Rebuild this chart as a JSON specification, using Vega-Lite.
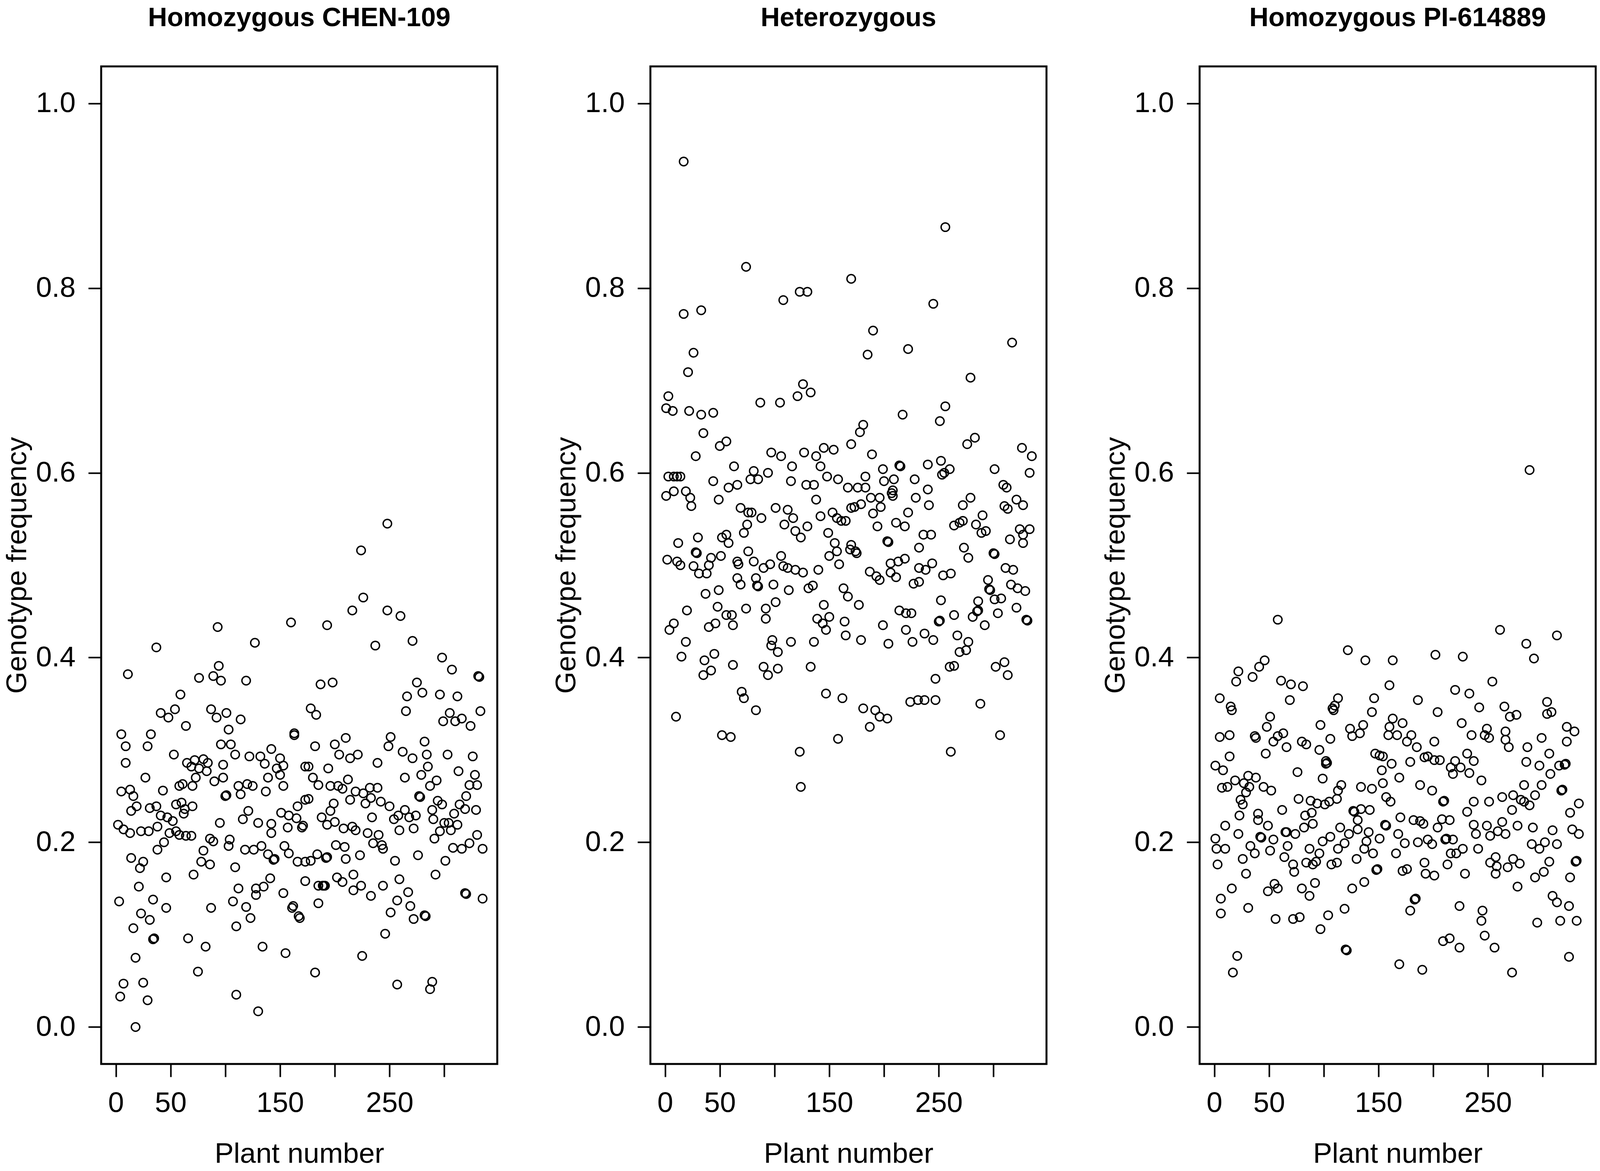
{
  "$schema": "https://vega.github.io/schema/vega-lite/v6.json",
  "background": "white",
  "padding": {"left": 6, "top": 10, "right": 0, "bottom": 0},
  "bounds": "flush",
  "spacing": 392,
  "config": {
    "font": "Liberation Sans",
    "view": {"stroke": "black", "strokeWidth": 5},
    "axis": {
      "domain": false, "grid": false,
      "tickColor": "black", "tickWidth": 4, "tickSize": 33,
      "labelFont": "Liberation Sans", "labelFontSize": 73, "labelColor": "black",
      "titleFont": "Liberation Sans", "titleFontSize": 73, "titleFontWeight": "normal", "titleColor": "black",
      "labelOverlap": false
    },
    "axisX": {"labelPadding": 31, "titlePadding": 57, "labelFlush": false},
    "axisY": {"labelPadding": 33, "titlePadding": 10, "labelAngle": 0},
    "title": {"font": "Liberation Sans", "fontSize": 68, "fontWeight": "bold", "color": "black", "anchor": "middle", "baseline": "alphabetic", "offset": 89}
  },
  "datasets": {
    "chen": [
      {"plant":93,"freq":0.433},{"plant":160,"freq":0.438},{"plant":37,"freq":0.411},{"plant":127,"freq":0.416},{"plant":11,"freq":0.382},{"plant":94,"freq":0.391},{"plant":76,"freq":0.378},{"plant":89,"freq":0.380},{"plant":96,"freq":0.375},{"plant":119,"freq":0.375},
      {"plant":59,"freq":0.360},{"plant":41,"freq":0.340},{"plant":48,"freq":0.335},{"plant":54,"freq":0.344},{"plant":64,"freq":0.326},{"plant":87,"freq":0.344},{"plant":92,"freq":0.335},{"plant":101,"freq":0.340},{"plant":114,"freq":0.333},{"plant":103,"freq":0.322},
      {"plant":163,"freq":0.316},{"plant":163,"freq":0.318},{"plant":5,"freq":0.317},{"plant":32,"freq":0.317},{"plant":9,"freq":0.304},{"plant":29,"freq":0.304},{"plant":9,"freq":0.286},{"plant":53,"freq":0.295},{"plant":96,"freq":0.306},{"plant":105,"freq":0.306},
      {"plant":109,"freq":0.295},{"plant":122,"freq":0.293},{"plant":142,"freq":0.301},{"plant":132,"freq":0.293},{"plant":136,"freq":0.285},{"plant":150,"freq":0.291},{"plant":153,"freq":0.283},{"plant":147,"freq":0.280},{"plant":150,"freq":0.273},{"plant":173,"freq":0.282},
      {"plant":65,"freq":0.286},{"plant":72,"freq":0.289},{"plant":80,"freq":0.290},{"plant":84,"freq":0.286},{"plant":69,"freq":0.282},{"plant":76,"freq":0.280},{"plant":83,"freq":0.277},{"plant":98,"freq":0.284},{"plant":27,"freq":0.270},{"plant":98,"freq":0.270},
      {"plant":90,"freq":0.266},{"plant":73,"freq":0.270},{"plant":70,"freq":0.261},{"plant":139,"freq":0.270},{"plant":58,"freq":0.261},{"plant":61,"freq":0.263},{"plant":43,"freq":0.256},{"plant":112,"freq":0.261},{"plant":120,"freq":0.263},{"plant":125,"freq":0.261},
      {"plant":114,"freq":0.252},{"plant":153,"freq":0.261},{"plant":137,"freq":0.255},{"plant":100,"freq":0.250},{"plant":101,"freq":0.251},{"plant":5,"freq":0.255},{"plant":13,"freq":0.257},{"plant":16,"freq":0.250},{"plant":19,"freq":0.239},{"plant":14,"freq":0.234},
      {"plant":31,"freq":0.237},{"plant":37,"freq":0.239},{"plant":41,"freq":0.229},{"plant":47,"freq":0.227},{"plant":52,"freq":0.223},{"plant":55,"freq":0.241},{"plant":60,"freq":0.243},{"plant":63,"freq":0.236},{"plant":62,"freq":0.231},{"plant":70,"freq":0.239},
      {"plant":166,"freq":0.239},{"plant":173,"freq":0.246},{"plant":151,"freq":0.232},{"plant":158,"freq":0.229},{"plant":165,"freq":0.226},{"plant":170,"freq":0.216},{"plant":171,"freq":0.218},{"plant":157,"freq":0.216},{"plant":142,"freq":0.220},{"plant":130,"freq":0.221},
      {"plant":142,"freq":0.210},{"plant":121,"freq":0.234},{"plant":116,"freq":0.225},{"plant":95,"freq":0.221},{"plant":2,"freq":0.219},{"plant":7,"freq":0.214},{"plant":13,"freq":0.210},{"plant":23,"freq":0.212},{"plant":30,"freq":0.212},{"plant":38,"freq":0.217},
      {"plant":49,"freq":0.210},{"plant":55,"freq":0.212},{"plant":58,"freq":0.208},{"plant":64,"freq":0.207},{"plant":69,"freq":0.207},{"plant":44,"freq":0.200},{"plant":38,"freq":0.192},{"plant":86,"freq":0.204},{"plant":89,"freq":0.201},{"plant":104,"freq":0.203},
      {"plant":103,"freq":0.196},{"plant":118,"freq":0.192},{"plant":126,"freq":0.192},{"plant":133,"freq":0.196},{"plant":139,"freq":0.187},{"plant":145,"freq":0.182},{"plant":144,"freq":0.181},{"plant":154,"freq":0.196},{"plant":158,"freq":0.188},{"plant":166,"freq":0.179},
      {"plant":173,"freq":0.179},{"plant":80,"freq":0.191},{"plant":78,"freq":0.179},{"plant":86,"freq":0.176},{"plant":14,"freq":0.183},{"plant":22,"freq":0.172},{"plant":25,"freq":0.179},{"plant":109,"freq":0.173},{"plant":46,"freq":0.162},{"plant":71,"freq":0.165},
      {"plant":141,"freq":0.161},{"plant":173,"freq":0.158},{"plant":135,"freq":0.152},{"plant":128,"freq":0.150},{"plant":112,"freq":0.150},{"plant":128,"freq":0.143},{"plant":153,"freq":0.145},{"plant":162,"freq":0.131},{"plant":161,"freq":0.129},{"plant":168,"freq":0.118},
      {"plant":167,"freq":0.120},{"plant":21,"freq":0.152},{"plant":3,"freq":0.136},{"plant":34,"freq":0.138},{"plant":46,"freq":0.129},{"plant":87,"freq":0.129},{"plant":107,"freq":0.136},{"plant":119,"freq":0.130},{"plant":123,"freq":0.118},{"plant":23,"freq":0.123},
      {"plant":31,"freq":0.116},{"plant":16,"freq":0.107},{"plant":110,"freq":0.109},{"plant":35,"freq":0.096},{"plant":34,"freq":0.095},{"plant":66,"freq":0.096},{"plant":82,"freq":0.087},{"plant":134,"freq":0.087},{"plant":155,"freq":0.080},{"plant":18,"freq":0.075},
      {"plant":75,"freq":0.060},{"plant":7,"freq":0.047},{"plant":25,"freq":0.048},{"plant":4,"freq":0.033},{"plant":29,"freq":0.029},{"plant":110,"freq":0.035},{"plant":130,"freq":0.017},{"plant":18,"freq":0.000},
      {"plant":248,"freq":0.545},{"plant":224,"freq":0.516},{"plant":226,"freq":0.465},{"plant":216,"freq":0.451},{"plant":248,"freq":0.451},{"plant":260,"freq":0.445},{"plant":193,"freq":0.435},{"plant":237,"freq":0.413},{"plant":271,"freq":0.418},{"plant":298,"freq":0.400},
      {"plant":307,"freq":0.387},{"plant":332,"freq":0.379},{"plant":331,"freq":0.380},{"plant":187,"freq":0.371},{"plant":198,"freq":0.373},{"plant":275,"freq":0.373},{"plant":280,"freq":0.362},{"plant":266,"freq":0.358},{"plant":296,"freq":0.360},{"plant":312,"freq":0.358},
      {"plant":265,"freq":0.342},{"plant":333,"freq":0.342},{"plant":178,"freq":0.345},{"plant":183,"freq":0.338},{"plant":299,"freq":0.331},{"plant":305,"freq":0.340},{"plant":310,"freq":0.331},{"plant":316,"freq":0.334},{"plant":324,"freq":0.326},{"plant":251,"freq":0.314},
      {"plant":249,"freq":0.304},{"plant":210,"freq":0.313},{"plant":182,"freq":0.304},{"plant":200,"freq":0.306},{"plant":204,"freq":0.295},{"plant":214,"freq":0.291},{"plant":221,"freq":0.295},{"plant":239,"freq":0.286},{"plant":262,"freq":0.298},{"plant":271,"freq":0.291},
      {"plant":282,"freq":0.309},{"plant":284,"freq":0.295},{"plant":303,"freq":0.295},{"plant":326,"freq":0.293},{"plant":176,"freq":0.282},{"plant":180,"freq":0.270},{"plant":185,"freq":0.262},{"plant":194,"freq":0.280},{"plant":196,"freq":0.261},{"plant":203,"freq":0.261},
      {"plant":207,"freq":0.258},{"plant":212,"freq":0.268},{"plant":264,"freq":0.270},{"plant":285,"freq":0.282},{"plant":279,"freq":0.273},{"plant":287,"freq":0.261},{"plant":293,"freq":0.267},{"plant":313,"freq":0.277},{"plant":328,"freq":0.273},{"plant":323,"freq":0.262},
      {"plant":330,"freq":0.262},{"plant":176,"freq":0.247},{"plant":214,"freq":0.246},{"plant":219,"freq":0.255},{"plant":226,"freq":0.253},{"plant":232,"freq":0.259},{"plant":239,"freq":0.259},{"plant":228,"freq":0.242},{"plant":233,"freq":0.248},{"plant":242,"freq":0.244},
      {"plant":250,"freq":0.239},{"plant":277,"freq":0.250},{"plant":278,"freq":0.249},{"plant":294,"freq":0.245},{"plant":298,"freq":0.241},{"plant":320,"freq":0.250},{"plant":314,"freq":0.241},{"plant":319,"freq":0.236},{"plant":329,"freq":0.235},{"plant":199,"freq":0.242},
      {"plant":196,"freq":0.234},{"plant":188,"freq":0.227},{"plant":193,"freq":0.219},{"plant":200,"freq":0.222},{"plant":208,"freq":0.215},{"plant":216,"freq":0.217},{"plant":219,"freq":0.213},{"plant":234,"freq":0.227},{"plant":230,"freq":0.210},{"plant":240,"freq":0.208},
      {"plant":254,"freq":0.225},{"plant":258,"freq":0.229},{"plant":264,"freq":0.235},{"plant":268,"freq":0.227},{"plant":274,"freq":0.229},{"plant":272,"freq":0.215},{"plant":259,"freq":0.213},{"plant":289,"freq":0.235},{"plant":290,"freq":0.225},{"plant":309,"freq":0.231},
      {"plant":304,"freq":0.221},{"plant":312,"freq":0.219},{"plant":300,"freq":0.221},{"plant":296,"freq":0.212},{"plant":306,"freq":0.213},{"plant":291,"freq":0.204},{"plant":330,"freq":0.208},{"plant":201,"freq":0.197},{"plant":209,"freq":0.195},{"plant":235,"freq":0.199},
      {"plant":243,"freq":0.197},{"plant":244,"freq":0.193},{"plant":308,"freq":0.194},{"plant":316,"freq":0.193},{"plant":323,"freq":0.199},{"plant":335,"freq":0.193},{"plant":184,"freq":0.187},{"plant":192,"freq":0.183},{"plant":193,"freq":0.184},{"plant":178,"freq":0.180},
      {"plant":210,"freq":0.182},{"plant":223,"freq":0.186},{"plant":255,"freq":0.180},{"plant":276,"freq":0.186},{"plant":301,"freq":0.180},{"plant":202,"freq":0.162},{"plant":207,"freq":0.157},{"plant":217,"freq":0.165},{"plant":224,"freq":0.153},{"plant":217,"freq":0.148},
      {"plant":189,"freq":0.153},{"plant":190,"freq":0.153},{"plant":191,"freq":0.153},{"plant":185,"freq":0.153},{"plant":244,"freq":0.153},{"plant":259,"freq":0.160},{"plant":292,"freq":0.165},{"plant":233,"freq":0.142},{"plant":185,"freq":0.134},{"plant":257,"freq":0.137},
      {"plant":267,"freq":0.146},{"plant":269,"freq":0.131},{"plant":272,"freq":0.117},{"plant":282,"freq":0.121},{"plant":283,"freq":0.120},{"plant":320,"freq":0.144},{"plant":319,"freq":0.145},{"plant":335,"freq":0.139},{"plant":251,"freq":0.124},{"plant":246,"freq":0.101},
      {"plant":225,"freq":0.077},{"plant":182,"freq":0.059},{"plant":257,"freq":0.046},{"plant":289,"freq":0.049},{"plant":287,"freq":0.041}
    ],
    "het": [
      {"plant":17,"freq":0.937},{"plant":74,"freq":0.823},{"plant":170,"freq":0.810},{"plant":108,"freq":0.787},{"plant":123,"freq":0.796},{"plant":130,"freq":0.796},{"plant":17,"freq":0.772},{"plant":33,"freq":0.776},{"plant":26,"freq":0.730},{"plant":21,"freq":0.709},
      {"plant":3,"freq":0.683},{"plant":1,"freq":0.670},{"plant":7,"freq":0.667},{"plant":22,"freq":0.667},{"plant":33,"freq":0.663},{"plant":44,"freq":0.665},{"plant":35,"freq":0.643},{"plant":87,"freq":0.676},{"plant":105,"freq":0.676},{"plant":121,"freq":0.683},
      {"plant":126,"freq":0.696},{"plant":133,"freq":0.687},{"plant":50,"freq":0.629},{"plant":56,"freq":0.634},{"plant":28,"freq":0.618},{"plant":63,"freq":0.607},{"plant":97,"freq":0.622},{"plant":106,"freq":0.618},{"plant":116,"freq":0.607},{"plant":127,"freq":0.622},
      {"plant":138,"freq":0.618},{"plant":145,"freq":0.627},{"plant":154,"freq":0.625},{"plant":142,"freq":0.607},{"plant":170,"freq":0.631},{"plant":3,"freq":0.596},{"plant":8,"freq":0.596},{"plant":11,"freq":0.596},{"plant":14,"freq":0.596},{"plant":1,"freq":0.575},
      {"plant":8,"freq":0.580},{"plant":19,"freq":0.580},{"plant":23,"freq":0.573},{"plant":24,"freq":0.564},{"plant":44,"freq":0.591},{"plant":49,"freq":0.571},{"plant":58,"freq":0.584},{"plant":66,"freq":0.587},{"plant":78,"freq":0.593},{"plant":81,"freq":0.602},
      {"plant":85,"freq":0.593},{"plant":94,"freq":0.600},{"plant":115,"freq":0.591},{"plant":129,"freq":0.587},{"plant":136,"freq":0.587},{"plant":138,"freq":0.571},{"plant":148,"freq":0.596},{"plant":158,"freq":0.593},{"plant":167,"freq":0.584},{"plant":69,"freq":0.562},
      {"plant":76,"freq":0.557},{"plant":79,"freq":0.557},{"plant":88,"freq":0.551},{"plant":101,"freq":0.562},{"plant":112,"freq":0.560},{"plant":117,"freq":0.551},{"plant":109,"freq":0.544},{"plant":119,"freq":0.537},{"plant":124,"freq":0.530},{"plant":130,"freq":0.542},
      {"plant":142,"freq":0.553},{"plant":153,"freq":0.557},{"plant":157,"freq":0.551},{"plant":161,"freq":0.548},{"plant":165,"freq":0.548},{"plant":170,"freq":0.562},{"plant":149,"freq":0.535},{"plant":75,"freq":0.544},{"plant":72,"freq":0.535},{"plant":12,"freq":0.524},
      {"plant":30,"freq":0.530},{"plant":52,"freq":0.530},{"plant":56,"freq":0.533},{"plant":58,"freq":0.524},{"plant":29,"freq":0.513},{"plant":28,"freq":0.514},{"plant":2,"freq":0.506},{"plant":11,"freq":0.504},{"plant":14,"freq":0.500},{"plant":26,"freq":0.499},
      {"plant":31,"freq":0.491},{"plant":38,"freq":0.491},{"plant":42,"freq":0.508},{"plant":40,"freq":0.500},{"plant":51,"freq":0.510},{"plant":66,"freq":0.504},{"plant":67,"freq":0.501},{"plant":76,"freq":0.515},{"plant":81,"freq":0.504},{"plant":90,"freq":0.497},
      {"plant":96,"freq":0.501},{"plant":106,"freq":0.510},{"plant":108,"freq":0.499},{"plant":112,"freq":0.497},{"plant":119,"freq":0.495},{"plant":126,"freq":0.492},{"plant":140,"freq":0.495},{"plant":150,"freq":0.510},{"plant":155,"freq":0.524},{"plant":157,"freq":0.515},
      {"plant":159,"freq":0.501},{"plant":169,"freq":0.517},{"plant":170,"freq":0.522},{"plant":66,"freq":0.486},{"plant":69,"freq":0.479},{"plant":83,"freq":0.486},{"plant":84,"freq":0.478},{"plant":85,"freq":0.477},{"plant":99,"freq":0.479},{"plant":37,"freq":0.469},
      {"plant":49,"freq":0.473},{"plant":113,"freq":0.473},{"plant":131,"freq":0.475},{"plant":135,"freq":0.478},{"plant":163,"freq":0.475},{"plant":167,"freq":0.466},{"plant":20,"freq":0.451},{"plant":48,"freq":0.455},{"plant":56,"freq":0.446},{"plant":61,"freq":0.446},
      {"plant":62,"freq":0.435},{"plant":74,"freq":0.453},{"plant":92,"freq":0.453},{"plant":92,"freq":0.442},{"plant":101,"freq":0.460},{"plant":145,"freq":0.457},{"plant":139,"freq":0.442},{"plant":144,"freq":0.437},{"plant":150,"freq":0.444},{"plant":147,"freq":0.430},
      {"plant":164,"freq":0.439},{"plant":165,"freq":0.424},{"plant":4,"freq":0.430},{"plant":8,"freq":0.437},{"plant":40,"freq":0.433},{"plant":46,"freq":0.437},{"plant":19,"freq":0.417},{"plant":15,"freq":0.401},{"plant":36,"freq":0.397},{"plant":45,"freq":0.404},
      {"plant":35,"freq":0.381},{"plant":42,"freq":0.386},{"plant":62,"freq":0.392},{"plant":98,"freq":0.419},{"plant":97,"freq":0.413},{"plant":103,"freq":0.406},{"plant":115,"freq":0.417},{"plant":136,"freq":0.417},{"plant":90,"freq":0.390},{"plant":94,"freq":0.381},
      {"plant":103,"freq":0.388},{"plant":133,"freq":0.390},{"plant":70,"freq":0.363},{"plant":72,"freq":0.356},{"plant":83,"freq":0.343},{"plant":147,"freq":0.361},{"plant":162,"freq":0.356},{"plant":10,"freq":0.336},{"plant":52,"freq":0.316},{"plant":60,"freq":0.314},
      {"plant":123,"freq":0.298},{"plant":124,"freq":0.260},{"plant":158,"freq":0.312},
      {"plant":256,"freq":0.866},{"plant":245,"freq":0.783},{"plant":190,"freq":0.754},{"plant":185,"freq":0.728},{"plant":222,"freq":0.734},{"plant":317,"freq":0.741},{"plant":279,"freq":0.703},{"plant":256,"freq":0.672},{"plant":251,"freq":0.656},{"plant":217,"freq":0.663},
      {"plant":181,"freq":0.652},{"plant":178,"freq":0.644},{"plant":189,"freq":0.620},{"plant":276,"freq":0.631},{"plant":283,"freq":0.638},{"plant":326,"freq":0.627},{"plant":335,"freq":0.618},{"plant":333,"freq":0.600},{"plant":301,"freq":0.604},{"plant":199,"freq":0.604},
      {"plant":214,"freq":0.608},{"plant":215,"freq":0.607},{"plant":200,"freq":0.591},{"plant":209,"freq":0.593},{"plant":183,"freq":0.596},{"plant":228,"freq":0.593},{"plant":240,"freq":0.609},{"plant":252,"freq":0.613},{"plant":255,"freq":0.600},{"plant":260,"freq":0.604},
      {"plant":253,"freq":0.598},{"plant":176,"freq":0.584},{"plant":183,"freq":0.584},{"plant":188,"freq":0.573},{"plant":196,"freq":0.573},{"plant":208,"freq":0.581},{"plant":207,"freq":0.578},{"plant":208,"freq":0.575},{"plant":229,"freq":0.573},{"plant":240,"freq":0.582},
      {"plant":241,"freq":0.565},{"plant":179,"freq":0.566},{"plant":173,"freq":0.563},{"plant":190,"freq":0.556},{"plant":197,"freq":0.563},{"plant":222,"freq":0.557},{"plant":194,"freq":0.542},{"plant":211,"freq":0.546},{"plant":219,"freq":0.542},{"plant":203,"freq":0.526},
      {"plant":204,"freq":0.525},{"plant":279,"freq":0.573},{"plant":272,"freq":0.565},{"plant":309,"freq":0.587},{"plant":312,"freq":0.584},{"plant":321,"freq":0.571},{"plant":327,"freq":0.565},{"plant":310,"freq":0.564},{"plant":313,"freq":0.561},{"plant":264,"freq":0.543},
      {"plant":269,"freq":0.546},{"plant":272,"freq":0.548},{"plant":284,"freq":0.544},{"plant":290,"freq":0.554},{"plant":289,"freq":0.535},{"plant":293,"freq":0.537},{"plant":315,"freq":0.528},{"plant":324,"freq":0.539},{"plant":327,"freq":0.533},{"plant":333,"freq":0.539},
      {"plant":327,"freq":0.524},{"plant":273,"freq":0.519},{"plant":277,"freq":0.508},{"plant":300,"freq":0.513},{"plant":301,"freq":0.512},{"plant":232,"freq":0.519},{"plant":236,"freq":0.533},{"plant":243,"freq":0.533},{"plant":174,"freq":0.515},{"plant":175,"freq":0.513},
      {"plant":206,"freq":0.502},{"plant":213,"freq":0.504},{"plant":219,"freq":0.507},{"plant":206,"freq":0.492},{"plant":211,"freq":0.487},{"plant":187,"freq":0.493},{"plant":196,"freq":0.484},{"plant":193,"freq":0.488},{"plant":232,"freq":0.497},{"plant":238,"freq":0.495},
      {"plant":244,"freq":0.502},{"plant":227,"freq":0.480},{"plant":232,"freq":0.482},{"plant":254,"freq":0.489},{"plant":261,"freq":0.491},{"plant":295,"freq":0.484},{"plant":296,"freq":0.474},{"plant":297,"freq":0.473},{"plant":311,"freq":0.497},{"plant":318,"freq":0.495},
      {"plant":316,"freq":0.479},{"plant":322,"freq":0.475},{"plant":329,"freq":0.472},{"plant":301,"freq":0.463},{"plant":307,"freq":0.464},{"plant":304,"freq":0.448},{"plant":321,"freq":0.454},{"plant":330,"freq":0.441},{"plant":331,"freq":0.440},{"plant":286,"freq":0.461},
      {"plant":281,"freq":0.444},{"plant":285,"freq":0.450},{"plant":286,"freq":0.451},{"plant":292,"freq":0.435},{"plant":252,"freq":0.462},{"plant":250,"freq":0.439},{"plant":251,"freq":0.440},{"plant":264,"freq":0.446},{"plant":177,"freq":0.457},{"plant":214,"freq":0.451},
      {"plant":220,"freq":0.448},{"plant":225,"freq":0.448},{"plant":199,"freq":0.435},{"plant":220,"freq":0.430},{"plant":226,"freq":0.417},{"plant":237,"freq":0.426},{"plant":245,"freq":0.419},{"plant":179,"freq":0.419},{"plant":204,"freq":0.415},{"plant":267,"freq":0.424},
      {"plant":277,"freq":0.417},{"plant":269,"freq":0.406},{"plant":275,"freq":0.408},{"plant":260,"freq":0.390},{"plant":264,"freq":0.391},{"plant":247,"freq":0.377},{"plant":302,"freq":0.390},{"plant":310,"freq":0.395},{"plant":313,"freq":0.381},{"plant":224,"freq":0.352},
      {"plant":231,"freq":0.354},{"plant":237,"freq":0.354},{"plant":247,"freq":0.354},{"plant":181,"freq":0.345},{"plant":192,"freq":0.343},{"plant":196,"freq":0.336},{"plant":203,"freq":0.334},{"plant":187,"freq":0.325},{"plant":288,"freq":0.350},{"plant":306,"freq":0.316},
      {"plant":261,"freq":0.298}
    ],
    "pi": [
      {"plant":58,"freq":0.441},{"plant":122,"freq":0.408},{"plant":138,"freq":0.397},{"plant":163,"freq":0.397},{"plant":160,"freq":0.370},{"plant":22,"freq":0.385},{"plant":20,"freq":0.374},{"plant":35,"freq":0.379},{"plant":41,"freq":0.390},{"plant":46,"freq":0.397},
      {"plant":61,"freq":0.375},{"plant":70,"freq":0.371},{"plant":81,"freq":0.369},{"plant":69,"freq":0.354},{"plant":5,"freq":0.356},{"plant":15,"freq":0.347},{"plant":16,"freq":0.343},{"plant":113,"freq":0.356},{"plant":110,"freq":0.348},{"plant":109,"freq":0.343},
      {"plant":108,"freq":0.345},{"plant":146,"freq":0.356},{"plant":144,"freq":0.341},{"plant":51,"freq":0.336},{"plant":48,"freq":0.325},{"plant":97,"freq":0.327},{"plant":136,"freq":0.327},{"plant":124,"freq":0.323},{"plant":133,"freq":0.318},{"plant":126,"freq":0.315},
      {"plant":106,"freq":0.312},{"plant":163,"freq":0.334},{"plant":160,"freq":0.325},{"plant":159,"freq":0.316},{"plant":167,"freq":0.316},{"plant":172,"freq":0.329},{"plant":5,"freq":0.314},{"plant":14,"freq":0.316},{"plant":37,"freq":0.315},{"plant":38,"freq":0.313},
      {"plant":63,"freq":0.318},{"plant":58,"freq":0.315},{"plant":54,"freq":0.309},{"plant":66,"freq":0.303},{"plant":80,"freq":0.309},{"plant":84,"freq":0.306},{"plant":96,"freq":0.300},{"plant":102,"freq":0.288},{"plant":102,"freq":0.285},{"plant":103,"freq":0.286},
      {"plant":47,"freq":0.296},{"plant":14,"freq":0.293},{"plant":1,"freq":0.283},{"plant":8,"freq":0.278},{"plant":76,"freq":0.276},{"plant":99,"freq":0.269},{"plant":147,"freq":0.296},{"plant":154,"freq":0.293},{"plant":151,"freq":0.294},{"plant":162,"freq":0.285},
      {"plant":153,"freq":0.278},{"plant":169,"freq":0.270},{"plant":154,"freq":0.264},{"plant":134,"freq":0.260},{"plant":144,"freq":0.258},{"plant":116,"freq":0.262},{"plant":113,"freq":0.256},{"plant":112,"freq":0.247},{"plant":7,"freq":0.259},{"plant":12,"freq":0.260},
      {"plant":19,"freq":0.267},{"plant":27,"freq":0.264},{"plant":31,"freq":0.272},{"plant":32,"freq":0.260},{"plant":38,"freq":0.270},{"plant":45,"freq":0.260},{"plant":52,"freq":0.256},{"plant":29,"freq":0.254},{"plant":24,"freq":0.246},{"plant":26,"freq":0.241},
      {"plant":23,"freq":0.229},{"plant":40,"freq":0.231},{"plant":40,"freq":0.224},{"plant":49,"freq":0.218},{"plant":62,"freq":0.235},{"plant":77,"freq":0.247},{"plant":88,"freq":0.245},{"plant":94,"freq":0.242},{"plant":101,"freq":0.241},{"plant":105,"freq":0.244},
      {"plant":127,"freq":0.234},{"plant":128,"freq":0.233},{"plant":134,"freq":0.236},{"plant":142,"freq":0.235},{"plant":131,"freq":0.224},{"plant":157,"freq":0.249},{"plant":161,"freq":0.244},{"plant":170,"freq":0.227},{"plant":157,"freq":0.218},{"plant":156,"freq":0.219},
      {"plant":89,"freq":0.232},{"plant":83,"freq":0.229},{"plant":90,"freq":0.220},{"plant":82,"freq":0.216},{"plant":10,"freq":0.218},{"plant":22,"freq":0.209},{"plant":1,"freq":0.204},{"plant":2,"freq":0.193},{"plant":10,"freq":0.193},{"plant":66,"freq":0.211},
      {"plant":65,"freq":0.211},{"plant":74,"freq":0.209},{"plant":43,"freq":0.205},{"plant":42,"freq":0.206},{"plant":54,"freq":0.203},{"plant":33,"freq":0.196},{"plant":37,"freq":0.188},{"plant":51,"freq":0.191},{"plant":67,"freq":0.196},{"plant":64,"freq":0.184},
      {"plant":87,"freq":0.193},{"plant":96,"freq":0.188},{"plant":99,"freq":0.201},{"plant":106,"freq":0.206},{"plant":115,"freq":0.216},{"plant":123,"freq":0.209},{"plant":131,"freq":0.214},{"plant":113,"freq":0.193},{"plant":119,"freq":0.199},{"plant":141,"freq":0.211},
      {"plant":139,"freq":0.201},{"plant":151,"freq":0.204},{"plant":137,"freq":0.193},{"plant":145,"freq":0.188},{"plant":168,"freq":0.209},{"plant":166,"freq":0.188},{"plant":172,"freq":0.169},{"plant":3,"freq":0.176},{"plant":26,"freq":0.182},{"plant":29,"freq":0.166},
      {"plant":72,"freq":0.176},{"plant":73,"freq":0.168},{"plant":84,"freq":0.178},{"plant":90,"freq":0.176},{"plant":93,"freq":0.179},{"plant":107,"freq":0.176},{"plant":112,"freq":0.178},{"plant":130,"freq":0.182},{"plant":148,"freq":0.170},{"plant":149,"freq":0.171},
      {"plant":16,"freq":0.150},{"plant":55,"freq":0.155},{"plant":58,"freq":0.150},{"plant":49,"freq":0.147},{"plant":80,"freq":0.150},{"plant":87,"freq":0.142},{"plant":92,"freq":0.156},{"plant":126,"freq":0.150},{"plant":137,"freq":0.157},{"plant":6,"freq":0.139},
      {"plant":6,"freq":0.123},{"plant":31,"freq":0.129},{"plant":56,"freq":0.117},{"plant":72,"freq":0.117},{"plant":78,"freq":0.119},{"plant":104,"freq":0.121},{"plant":119,"freq":0.128},{"plant":97,"freq":0.106},{"plant":121,"freq":0.083},{"plant":120,"freq":0.084},
      {"plant":21,"freq":0.077},{"plant":17,"freq":0.059},{"plant":169,"freq":0.068},
      {"plant":288,"freq":0.603},{"plant":261,"freq":0.430},{"plant":313,"freq":0.424},{"plant":285,"freq":0.415},{"plant":292,"freq":0.399},{"plant":202,"freq":0.403},{"plant":227,"freq":0.401},{"plant":254,"freq":0.374},{"plant":220,"freq":0.365},{"plant":233,"freq":0.361},
      {"plant":242,"freq":0.346},{"plant":186,"freq":0.354},{"plant":204,"freq":0.341},{"plant":265,"freq":0.347},{"plant":270,"freq":0.336},{"plant":276,"freq":0.338},{"plant":304,"freq":0.352},{"plant":304,"freq":0.339},{"plant":308,"freq":0.341},{"plant":226,"freq":0.329},
      {"plant":180,"freq":0.316},{"plant":176,"freq":0.309},{"plant":185,"freq":0.303},{"plant":201,"freq":0.309},{"plant":235,"freq":0.316},{"plant":249,"freq":0.323},{"plant":247,"freq":0.316},{"plant":251,"freq":0.313},{"plant":266,"freq":0.320},{"plant":266,"freq":0.311},
      {"plant":269,"freq":0.303},{"plant":322,"freq":0.325},{"plant":329,"freq":0.320},{"plant":322,"freq":0.309},{"plant":299,"freq":0.313},{"plant":286,"freq":0.303},{"plant":306,"freq":0.296},{"plant":285,"freq":0.287},{"plant":297,"freq":0.283},{"plant":315,"freq":0.283},
      {"plant":320,"freq":0.284},{"plant":321,"freq":0.285},{"plant":307,"freq":0.274},{"plant":179,"freq":0.287},{"plant":192,"freq":0.292},{"plant":195,"freq":0.293},{"plant":201,"freq":0.289},{"plant":206,"freq":0.289},{"plant":216,"freq":0.281},{"plant":220,"freq":0.288},
      {"plant":218,"freq":0.274},{"plant":225,"freq":0.281},{"plant":231,"freq":0.296},{"plant":237,"freq":0.288},{"plant":233,"freq":0.275},{"plant":244,"freq":0.267},{"plant":188,"freq":0.262},{"plant":199,"freq":0.256},{"plant":209,"freq":0.244},{"plant":210,"freq":0.245},
      {"plant":283,"freq":0.262},{"plant":299,"freq":0.262},{"plant":317,"freq":0.256},{"plant":318,"freq":0.257},{"plant":237,"freq":0.244},{"plant":251,"freq":0.244},{"plant":263,"freq":0.249},{"plant":273,"freq":0.251},{"plant":280,"freq":0.246},{"plant":283,"freq":0.244},
      {"plant":288,"freq":0.240},{"plant":293,"freq":0.251},{"plant":272,"freq":0.235},{"plant":231,"freq":0.233},{"plant":333,"freq":0.242},{"plant":325,"freq":0.232},{"plant":182,"freq":0.224},{"plant":188,"freq":0.223},{"plant":191,"freq":0.220},{"plant":204,"freq":0.216},
      {"plant":208,"freq":0.225},{"plant":215,"freq":0.224},{"plant":237,"freq":0.219},{"plant":239,"freq":0.209},{"plant":249,"freq":0.218},{"plant":252,"freq":0.207},{"plant":259,"freq":0.212},{"plant":263,"freq":0.222},{"plant":266,"freq":0.209},{"plant":277,"freq":0.218},
      {"plant":291,"freq":0.216},{"plant":309,"freq":0.213},{"plant":327,"freq":0.214},{"plant":333,"freq":0.209},{"plant":174,"freq":0.199},{"plant":186,"freq":0.200},{"plant":195,"freq":0.203},{"plant":199,"freq":0.198},{"plant":211,"freq":0.203},{"plant":212,"freq":0.204},
      {"plant":218,"freq":0.203},{"plant":216,"freq":0.188},{"plant":221,"freq":0.188},{"plant":227,"freq":0.193},{"plant":241,"freq":0.193},{"plant":290,"freq":0.198},{"plant":297,"freq":0.193},{"plant":302,"freq":0.200},{"plant":313,"freq":0.198},{"plant":330,"freq":0.179},
      {"plant":331,"freq":0.180},{"plant":176,"freq":0.171},{"plant":192,"freq":0.178},{"plant":193,"freq":0.166},{"plant":201,"freq":0.164},{"plant":213,"freq":0.176},{"plant":229,"freq":0.166},{"plant":252,"freq":0.178},{"plant":257,"freq":0.184},{"plant":258,"freq":0.174},
      {"plant":257,"freq":0.166},{"plant":268,"freq":0.173},{"plant":273,"freq":0.182},{"plant":279,"freq":0.177},{"plant":306,"freq":0.179},{"plant":301,"freq":0.168},{"plant":293,"freq":0.162},{"plant":325,"freq":0.162},{"plant":277,"freq":0.152},{"plant":183,"freq":0.138},
      {"plant":184,"freq":0.139},{"plant":179,"freq":0.126},{"plant":224,"freq":0.131},{"plant":245,"freq":0.126},{"plant":244,"freq":0.115},{"plant":309,"freq":0.142},{"plant":313,"freq":0.135},{"plant":324,"freq":0.131},{"plant":316,"freq":0.115},{"plant":331,"freq":0.115},
      {"plant":295,"freq":0.113},{"plant":247,"freq":0.099},{"plant":215,"freq":0.096},{"plant":209,"freq":0.093},{"plant":224,"freq":0.086},{"plant":256,"freq":0.086},{"plant":324,"freq":0.076},{"plant":190,"freq":0.062},{"plant":272,"freq":0.059}
    ]
  },
  "hconcat": [
    {
      "title": "Homozygous CHEN-109",
      "width": 1014,
      "height": 2554,
      "data": {"name": "chen"},
      "mark": {"type": "point", "filled": false, "color": "black", "opacity": 1, "size": 470, "strokeWidth": 3.5},
      "encoding": {
        "x": {"field": "plant", "type": "quantitative", "scale": {"domain": [-13.4, 348.4], "nice": false, "zero": false},
              "axis": {"title": "Plant number", "values": [0, 50, 100, 150, 200, 250, 300], "labelExpr": "indexof([0, 50, 150, 250], datum.value) >= 0 ? datum.label : ''"}},
        "y": {"field": "freq", "type": "quantitative", "scale": {"domain": [-0.04, 1.04], "nice": false, "zero": false},
              "axis": {"title": "Genotype frequency", "values": [0, 0.2, 0.4, 0.6, 0.8, 1], "format": ".1f"}}
      }
    },
    {
      "title": "Heterozygous",
      "width": 1014,
      "height": 2554,
      "data": {"name": "het"},
      "mark": {"type": "point", "filled": false, "color": "black", "opacity": 1, "size": 470, "strokeWidth": 3.5},
      "encoding": {
        "x": {"field": "plant", "type": "quantitative", "scale": {"domain": [-13.4, 348.4], "nice": false, "zero": false},
              "axis": {"title": "Plant number", "values": [0, 50, 100, 150, 200, 250, 300], "labelExpr": "indexof([0, 50, 150, 250], datum.value) >= 0 ? datum.label : ''"}},
        "y": {"field": "freq", "type": "quantitative", "scale": {"domain": [-0.04, 1.04], "nice": false, "zero": false},
              "axis": {"title": "Genotype frequency", "values": [0, 0.2, 0.4, 0.6, 0.8, 1], "format": ".1f"}}
      }
    },
    {
      "title": "Homozygous PI-614889",
      "width": 1014,
      "height": 2554,
      "data": {"name": "pi"},
      "mark": {"type": "point", "filled": false, "color": "black", "opacity": 1, "size": 470, "strokeWidth": 3.5},
      "encoding": {
        "x": {"field": "plant", "type": "quantitative", "scale": {"domain": [-13.4, 348.4], "nice": false, "zero": false},
              "axis": {"title": "Plant number", "values": [0, 50, 100, 150, 200, 250, 300], "labelExpr": "indexof([0, 50, 150, 250], datum.value) >= 0 ? datum.label : ''"}},
        "y": {"field": "freq", "type": "quantitative", "scale": {"domain": [-0.04, 1.04], "nice": false, "zero": false},
              "axis": {"title": "Genotype frequency", "values": [0, 0.2, 0.4, 0.6, 0.8, 1], "format": ".1f"}}
      }
    }
  ]
}
